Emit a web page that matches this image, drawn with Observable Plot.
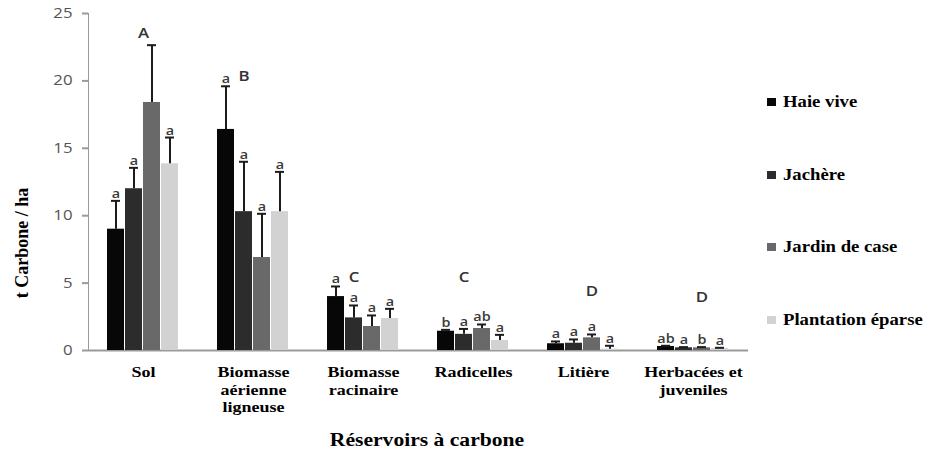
<!DOCTYPE html>
<html>
<head>
<meta charset="utf-8">
<script src="https://cdn.jsdelivr.net/npm/d3@7"></script>
<script src="https://cdn.jsdelivr.net/npm/@observablehq/plot@0.6"></script>
<style>
  body { margin: 0; background: #fff; }
  #wrap { position: relative; width: 932px; height: 451px; overflow: hidden; background: #fff; }
  #wrap svg { position: absolute; left: 0; top: 0; }
  g[aria-label="y-axis tick label"] { fill: #555; }
  g[aria-label="y-axis tick"] { stroke: #9a9a9a; stroke-width: 2; }
  .serifb { font-family: "Liberation Serif", "Times New Roman", serif; font-weight: bold; color: #000; position: absolute; white-space: nowrap; }
  .xtitle { font-size: 18px; left: 427px; top: 440px; transform: translate(-50%, -50%) scale(1.2, 1); }
  .ytitle { font-size: 18px; left: 22px; top: 243px; transform: translate(-50%, -50%) rotate(-90deg); }
  .legend-item { position: absolute; left: 767px; height: 20px; display: flex; align-items: center; transform: translateY(-50%); }
  .legend-item .sw { width: 9px; height: 8px; margin-right: 7px; }
  .legend-item .lb { font-family: "Liberation Serif", "Times New Roman", serif; font-weight: bold; font-size: 17px; transform: scale(1.1, 1); transform-origin: left center; white-space: nowrap; }
</style>
</head>
<body>
<div id="wrap"></div>
<script>
// ---- data ----
const categories = ["Sol", "Biomasse aérienne ligneuse", "Biomasse racinaire", "Radicelles", "Litière", "Herbacées et juveniles"];
const categoryLabels = ["Sol", "Biomasse\naérienne\nligneuse", "Biomasse\nracinaire", "Radicelles", "Litière", "Herbacées et\njuveniles"];
const series = ["Haie vive", "Jachère", "Jardin de case", "Plantation éparse"];
const seriesColors = ["#070707", "#2c2c2c", "#696969", "#d2d2d2"];

const haieVive = [9.0, 16.4, 4.0, 1.43, 0.5, 0.3];
const jachere = [12.0, 10.3, 2.42, 1.2, 0.54, 0.2];
const jardinDeCase = [18.4, 6.9, 1.78, 1.63, 0.94, 0.2];
const plantationEparse = [13.85, 10.3, 2.37, 0.74, 0.1, 0.15];

const haieViveUpper = [11.1, 19.6, 4.75, 1.53, 0.67, 0.35];
const jachereUpper = [13.55, 14.0, 3.34, 1.6, 0.82, 0.25];
const jardinDeCaseUpper = [22.65, 10.14, 2.6, 1.93, 1.19, 0.25];
const plantationEparseUpper = [15.8, 13.25, 3.09, 1.16, 0.35, 0.2];

const haieViveSig = ["a", "a", "a", "b", "a", "ab"];
const jachereSig = ["a", "a", "a", "a", "a", "a"];
const jardinDeCaseSig = ["", "a", "a", "ab", "a", "b"];
const plantationEparseSig = ["a", "a", "a", "a", "a", "a"];

const groupLetters = ["A", "B", "C", "C", "D", "D"];
const groupLetterY = [23.5, 20.3, 5.45, 5.45, 4.35, 3.95];
const groupLetterAnchor = [null, "Jachère", "Jachère", "Jachère", "Jardin de case", "Jardin de case"];

const yTicks = [0, 5, 10, 15, 20, 25];

// ---- table ----
const values = [haieVive, jachere, jardinDeCase, plantationEparse];
const uppers = [haieViveUpper, jachereUpper, jardinDeCaseUpper, plantationEparseUpper];
const sigs = [haieViveSig, jachereSig, jardinDeCaseSig, plantationEparseSig];
const rows = categories.flatMap((c, i) => series.map((s, j) => ({
  category: c, series: s, value: values[j][i], upper: uppers[j][i], sig: sigs[j][i]
})));
const groups = categories.map((c, i) => ({category: c, letter: groupLetters[i], y: groupLetterY[i], anchor: groupLetterAnchor[i]}));
const catRows = categories.map((c, i) => ({category: c, label: categoryLabels[i]}));

const plot = Plot.plot({
  width: 932,
  height: 451,
  marginLeft: 88,
  marginRight: 184,
  marginTop: 13,
  marginBottom: 101,
  style: {fontFamily: "'Open Sans', sans-serif", fontSize: "14px", background: "white", color: "#9a9a9a"},
  fx: {domain: categories, axis: null, padding: 0},
  x: {domain: series, axis: null, paddingInner: 0.05, paddingOuter: 1.0},
  y: {domain: [0, 25], ticks: yTicks, tickSize: 6, tickPadding: 10, label: null, line: true},
  color: {domain: series, range: seriesColors},
  marks: [
    Plot.ruleY([0], {stroke: "#9a9a9a", strokeWidth: 2}),
    Plot.barY(rows, {fx: "category", x: "series", y: "value", fill: "series"}),
    Plot.ruleX(rows, {fx: "category", x: "series", y1: "value", y2: "upper", stroke: "#1c1c1c", strokeWidth: 2}),
    Plot.tickY(rows, {fx: "category", x: "series", y: "upper", stroke: "#1c1c1c", strokeWidth: 2, insetLeft: 4, insetRight: 4}),
    Plot.text(rows, {fx: "category", x: "series", y: "upper", text: "sig", lineAnchor: "bottom", dy: -3, fontSize: 12, fontWeight: 600, fill: "#3a3a3a"}),
    Plot.text(groups.filter(d => d.anchor), {fx: "category", x: "anchor", y: "y", text: "letter", fontSize: 14, fontWeight: 600, fill: "#333"}),
    Plot.text(groups.filter(d => !d.anchor), {fx: "category", y: "y", text: "letter", fontSize: 14, fontWeight: 600, fill: "#333"}),
    Plot.text(catRows, {fx: "category", text: "label", frameAnchor: "bottom", lineAnchor: "top", dy: 14, lineHeight: 1.17,
      fontSize: 15, fontWeight: "bold", fill: "#000", className: "catlabel"})
  ]
});

// category labels in bold serif
const catSet = new Set(categoryLabels.flatMap(l => l.split("\n")));
d3.select(plot).selectAll("text").each(function () {
  const txt = this.textContent;
  const tspans = this.querySelectorAll("tspan");
  const parts = tspans.length ? Array.from(tspans, t => t.textContent) : [txt];
  if (parts.every(p => catSet.has(p))) {
    this.style.fontFamily = "'Liberation Serif', 'Times New Roman', serif";
    this.style.fontWeight = "bold";
  }
});

// emulate the horizontally stretched look of the original figure
d3.select(plot).selectAll("text").each(function () {
  const t = this.getAttribute("transform");
  if (t) {
    this.setAttribute("transform", t + " scale(1.2,1)");
  } else {
    const x = +this.getAttribute("x") || 0, y = +this.getAttribute("y") || 0;
    this.removeAttribute("x"); this.removeAttribute("y");
    this.setAttribute("transform", `translate(${x},${y}) scale(1.2,1)`);
  }
});

const wrap = d3.select("#wrap");
wrap.node().appendChild(plot);

wrap.append("div").attr("class", "serifb ytitle").text("t Carbone / ha");
wrap.append("div").attr("class", "serifb xtitle").text("Réservoirs à carbone");

const legendTop = 102, legendStep = 72.7;
const items = wrap.selectAll("div.legend-item").data(series).join("div")
  .attr("class", "legend-item")
  .style("top", (d, i) => `${legendTop + i * legendStep}px`);
items.append("div").attr("class", "sw").style("background", (d, i) => seriesColors[i]);
items.append("div").attr("class", "lb").text(d => d);
</script>
</body>
</html>
